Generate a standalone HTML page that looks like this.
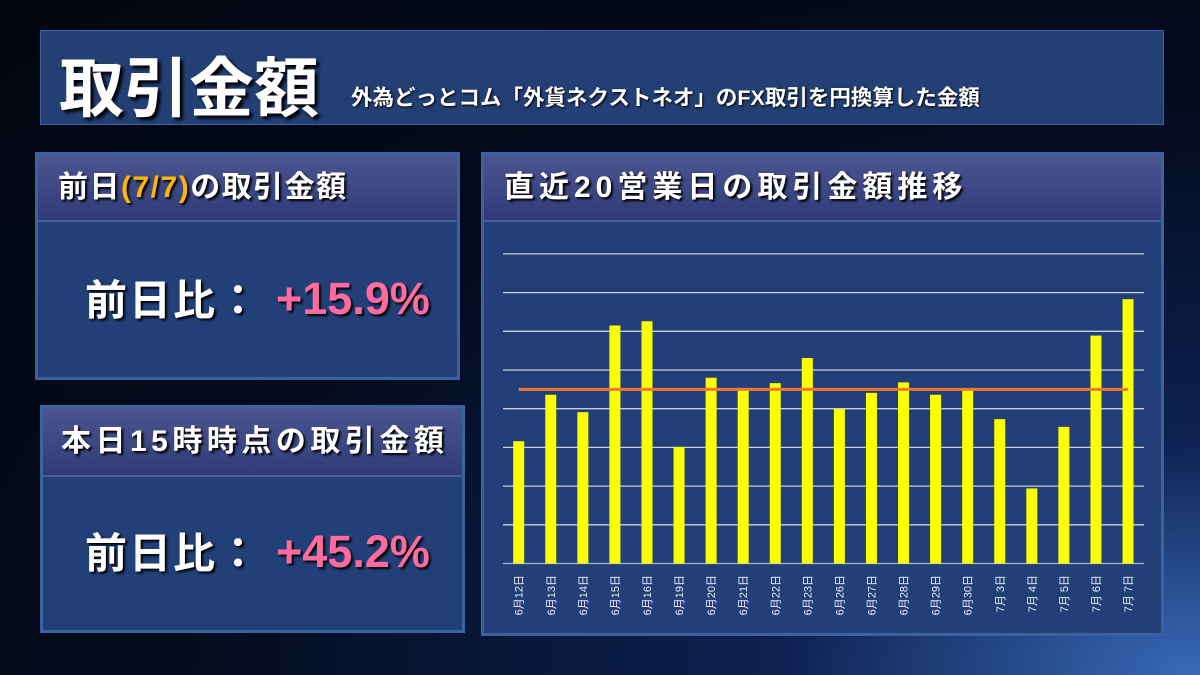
<!DOCTYPE html>
<html><head><meta charset="utf-8">
<style>
body{margin:0;width:1200px;height:675px;overflow:hidden;background:radial-gradient(ellipse at 100% 100%,#3a6ab8 0%,#0d2150 25%,#040b1e 60%,#02060f 100%);font-family:"Liberation Sans","Noto Sans CJK JP",sans-serif;position:relative}
.box{position:absolute;background:#223f77;border:3px solid #3a63a0;box-sizing:border-box}
.hdr{position:absolute;left:0;right:0;top:0;background:linear-gradient(#4b5690,#303a78);border-bottom:2px solid #4a5a9a;color:#fff;font-weight:bold;font-size:30px;box-sizing:border-box;padding-left:20px;text-shadow:2px 2px 2px #000;white-space:nowrap}
.lbl{position:absolute;color:#fff;font-size:42px;font-weight:bold;letter-spacing:2px;text-shadow:2px 2px 2px #000;white-space:nowrap}
.val{position:absolute;color:#ff6b9e;font-size:45px;font-weight:bold;text-shadow:2px 2px 2px #000;white-space:nowrap}
</style></head><body>
<div class="box" style="left:40px;top:30px;width:1124px;height:95px;border:1px solid #3a63a0;background:#233f74">
 <div style="position:absolute;left:18px;top:5px;color:#fff;font-weight:bold;font-size:65px;text-shadow:3px 3px 3px #000">取引金額</div>
 <div style="position:absolute;left:310px;top:50px;color:#fff;font-weight:bold;font-size:21.5px;text-shadow:1px 1px 2px #000;white-space:nowrap">外為どっとコム「外貨ネクストネオ」のFX取引を円換算した金額</div>
</div>
<div class="box" style="left:35px;top:152px;width:425px;height:228px">
 <div class="hdr" style="height:67px;line-height:66px;letter-spacing:1.5px">前日<span style="color:#ffb800">(7/7)</span>の取引金額</div>
 <div class="lbl" style="left:47px;top:112px">前日比：</div>
 <div class="val" style="left:238px;top:118px">+15.9%</div>
</div>
<div class="box" style="left:40px;top:405px;width:425px;height:228px">
 <div class="hdr" style="height:69px;line-height:68px;letter-spacing:4.5px;padding-left:18px">本日15時時点の取引金額</div>
 <div class="lbl" style="left:42px;top:112px">前日比：</div>
 <div class="val" style="left:233px;top:118px">+45.2%</div>
</div>
<div class="box" style="left:481px;top:152px;width:683px;height:484px">
 <div class="hdr" style="height:67px;line-height:66px;letter-spacing:5px">直近20営業日の取引金額推移</div>
</div>
<svg id="chart" width="1200" height="675" style="position:absolute;left:0;top:0"></svg>
<script>
const categories=["6月12日","6月13日","6月14日","6月15日","6月16日","6月19日","6月20日","6月21日","6月22日","6月23日","6月26日","6月27日","6月28日","6月29日","6月30日","7月 3日","7月 4日","7月 5日","7月 6日","7月 7日"];
const values=[3.16,4.36,3.91,6.15,6.26,3.01,4.80,4.48,4.66,5.31,3.99,4.41,4.68,4.36,4.48,3.73,1.94,3.53,5.89,6.83];
const averageValue=[4.50];
const gridTicks=[0,1,2,3,4,5,6,7,8];
const svg=document.getElementById('chart');const NS='http://www.w3.org/2000/svg';
const y0=563.5,unit=38.7,xFirst=518.7,step=32.07,bw=11;
const yS=v=>y0-v*unit, xS=i=>xFirst+i*step;
function mk(t,a){const e=document.createElementNS(NS,t);for(const k in a)e.setAttribute(k,a[k]);svg.appendChild(e);return e;}
gridTicks.forEach(t=>{const l=mk('line',{x1:503,x2:1144,y1:yS(t),y2:yS(t),stroke:t===0?'#aab8d0':'#c8d0e0','stroke-width':1.3});

});
values.forEach((v,i)=>{const r=mk('rect',{x:xS(i)-bw/2,y:yS(v),width:bw,height:v*unit,fill:'#ffff00'});


const tx=mk('text',{transform:`translate(${xS(i)+4},575) rotate(-90)`,'text-anchor':'end',fill:'#e8ecf4','font-size':11});
tx.textContent=categories[i];

});
const avg=mk('line',{x1:xS(0),x2:xS(values.length-1),y1:yS(averageValue[0]),y2:yS(averageValue[0]),stroke:'#f07830','stroke-width':3});


</script>
</body></html>
